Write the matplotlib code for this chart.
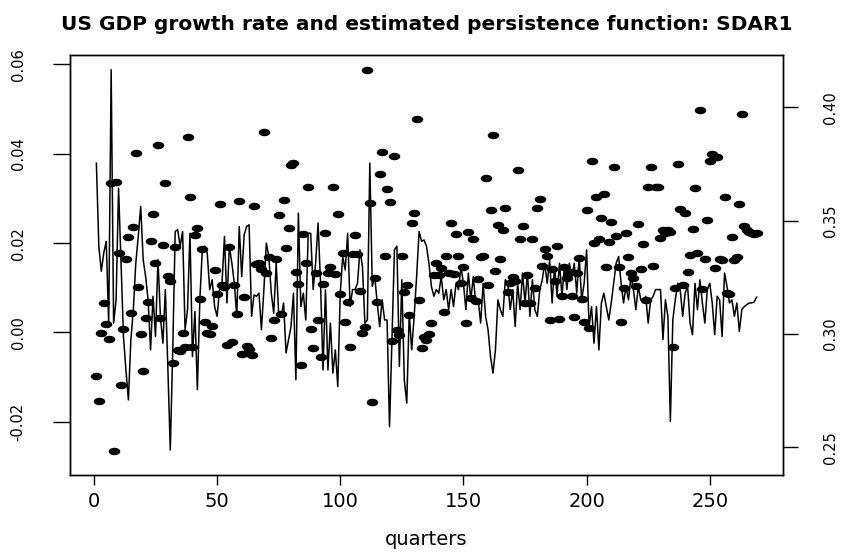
import numpy as np
import matplotlib
matplotlib.use("Agg")
import matplotlib.pyplot as plt
from matplotlib.path import Path
from matplotlib.transforms import Affine2D

# quarterly GDP growth (line, left axis) and SDAR1 persistence function (dots, right axis)
quarters = np.arange(1, 270)

gdp_growth = [
    0.0379, 0.0193, 0.0137, 0.0178, 0.0204, 0.0021, 0.0588, 0.0021, 0.0073, 0.0323,
    0.0155, -0.0009, -0.0084, -0.0151, -0.0016, 0.0051, 0.0155, 0.0215, 0.0282, 0.0163,
    0.0125, 0.0073, -0.0039, 0.0081, -0.0009, 0.0163, 0.0036, -0.0024, 0.0096, -0.0076,
    -0.0263, -0.0039, 0.0226, 0.0230, 0.0193, 0.0226, 0.0006, 0.0051, 0.0222, -0.0054,
    0.0047, -0.0128, 0.0073, 0.0185, 0.0193, 0.0178, 0.0096, 0.0118, 0.0058, 0.0036,
    0.0096, 0.0110, 0.0215, 0.0066, 0.0193, 0.0155, 0.0110, 0.0036, 0.0237, 0.0125,
    0.0219, 0.0237, 0.0241, 0.0036, 0.0084, 0.0081, 0.0088, 0.0006, 0.0096, 0.0200,
    0.0170, 0.0088, 0.0043, 0.0155, 0.0043, 0.0036, 0.0066, -0.0046, -0.0016, 0.0013,
    0.0088, -0.0106, 0.0267, 0.0058, 0.0088, 0.0028, 0.0222, 0.0222, 0.0096, 0.0155,
    0.0245, 0.0110, -0.0084, 0.0096, -0.0084, 0.0021, -0.0091, -0.0039, -0.0121, 0.0088,
    0.0170, 0.0140, 0.0222, 0.0058, 0.0096, 0.0096, 0.0110, 0.0185, 0.0148, 0.0021,
    0.0028, 0.0379, 0.0103, 0.0125, 0.0066, 0.0013, 0.0073, 0.0028, 0.0028, -0.0211,
    -0.0016, 0.0185, 0.0193, -0.0076, 0.0118, -0.0106, -0.0158, 0.0043, -0.0039, 0.0036,
    0.0125, 0.0226, 0.0204, 0.0207, 0.0193, 0.0155, 0.0103, 0.0081, 0.0096, 0.0088,
    0.0125, 0.0073, 0.0096, 0.0051, 0.0096, 0.0058, 0.0110, 0.0096, 0.0148, 0.0110,
    0.0051, 0.0133, 0.0073, 0.0125, 0.0066, 0.0073, 0.0021, 0.0110, 0.0036, 0.0006,
    -0.0054, -0.0091, -0.0039, 0.0073, 0.0051, 0.0036, 0.0118, 0.0110, 0.0051, 0.0096,
    0.0013, 0.0110, 0.0051, 0.0133, 0.0066, 0.0133, 0.0036, 0.0118, 0.0051, 0.0036,
    0.0096, 0.0118, 0.0155, 0.0110, 0.0163, 0.0066, 0.0148, 0.0081, 0.0155, 0.0081,
    0.0148, 0.0096, 0.0155, 0.0125, 0.0155, 0.0088, 0.0170, 0.0073, 0.0110, 0.0185,
    0.0013, 0.0058, -0.0024, 0.0058, -0.0039, 0.0066, 0.0088, 0.0058, 0.0028, 0.0066,
    0.0110, 0.0155, 0.0170, 0.0110, 0.0066, 0.0103, 0.0073, 0.0125, 0.0096, 0.0051,
    0.0103, 0.0073, 0.0066, 0.0081, 0.0021, 0.0073, 0.0081, 0.0096, 0.0096, 0.0096,
    -0.0016, 0.0073, 0.0036, -0.0199, 0.0028, 0.0073, 0.0110, 0.0096, 0.0036, 0.0088,
    0.0103, 0.0021, -0.0005, 0.0110, 0.0051, 0.0118, 0.0066, 0.0021, 0.0096, 0.0110,
    0.0066, -0.0005, 0.0081, 0.0073, -0.0009, 0.0133, 0.0103, 0.0066, 0.0073, 0.0036,
    0.0066, 0.0002, 0.0051, 0.0058, 0.0062, 0.0066, 0.0066, 0.0068, 0.0079,
]

persistence = [
    0.2815, 0.2703, 0.3003, 0.3135, 0.3044, 0.2978, 0.3665, 0.2485, 0.3669, 0.3356,
    0.2776, 0.3020, 0.3332, 0.3428, 0.3091, 0.3474, 0.3800, 0.3206, 0.2999, 0.2838,
    0.3072, 0.3143, 0.3410, 0.3530, 0.3315, 0.3832, 0.3070, 0.3391, 0.3665, 0.3256,
    0.3232, 0.2870, 0.3382, 0.2930, 0.2926, 0.3006, 0.2944, 0.3868, 0.3606, 0.2944,
    0.3437, 0.3469, 0.3154, 0.3375, 0.3054, 0.3006, 0.2999, 0.3035, 0.3282, 0.3176,
    0.3574, 0.3216, 0.3209, 0.2951, 0.3385, 0.2966, 0.3216, 0.3087, 0.3588, 0.2912,
    0.3165, 0.2947, 0.2932, 0.2909, 0.3565, 0.3307, 0.3315, 0.3287, 0.3891, 0.3268,
    0.3338, 0.2982, 0.3062, 0.3331, 0.3526, 0.3087, 0.3591, 0.3381, 0.3466, 0.3746,
    0.3753, 0.3275, 0.3221, 0.2862, 0.3441, 0.3315, 0.3650, 0.3024, 0.2937, 0.3268,
    0.3062, 0.2900, 0.3219, 0.3447, 0.3268, 0.3297, 0.3650, 0.3265, 0.3529, 0.3175,
    0.3359, 0.3051, 0.3143, 0.2941, 0.3353, 0.3435, 0.3353, 0.3191, 0.3003, 0.3032,
    0.4165, 0.3579, 0.2701, 0.3246, 0.3143, 0.3707, 0.3804, 0.3346, 0.3638, 0.3582,
    0.2969, 0.3785, 0.3018, 0.2996, 0.3344, 0.3185, 0.3215, 0.3084, 0.3488, 0.3534,
    0.3947, 0.3150, 0.2937, 0.2988, 0.2974, 0.3000, 0.3047, 0.3259, 0.3315, 0.3260,
    0.3290, 0.3096, 0.3344, 0.3271, 0.3491, 0.3265, 0.3441, 0.3346, 0.3224, 0.3297,
    0.3050, 0.3451, 0.3157, 0.3418, 0.3147, 0.3244, 0.3338, 0.3346, 0.3688, 0.3216,
    0.3547, 0.3878, 0.3276, 0.3481, 0.3329, 0.3459, 0.3557, 0.3187, 0.3224, 0.3253,
    0.3235, 0.3722, 0.3419, 0.3476, 0.3138, 0.3259, 0.3138, 0.3419, 0.3201, 0.3554,
    0.3596, 0.3301, 0.3374, 0.3343, 0.3062, 0.3285, 0.3235, 0.3388, 0.3065, 0.3169,
    0.3297, 0.3249, 0.3275, 0.3169, 0.3076, 0.3271, 0.3334, 0.3153, 0.3054, 0.3547,
    0.3025, 0.3765, 0.3400, 0.3606, 0.3419, 0.3513, 0.3618, 0.3294, 0.3407, 0.3496,
    0.3738, 0.3434, 0.3297, 0.3054, 0.3201, 0.3444, 0.3338, 0.3268, 0.3249, 0.3213,
    0.3485, 0.3287, 0.3396, 0.3150, 0.3650, 0.3738, 0.3300, 0.3650, 0.3647, 0.3422,
    0.3459, 0.3444, 0.3459, 0.3451, 0.2941, 0.3204, 0.3750, 0.3550, 0.3215, 0.3532,
    0.3275, 0.3347, 0.3462, 0.3646, 0.3359, 0.3988, 0.3197, 0.3329, 0.3503, 0.3763,
    0.3793, 0.3290, 0.3779, 0.3329, 0.3326, 0.3606, 0.3179, 0.3176, 0.3429, 0.3326,
    0.3341, 0.3572, 0.3969, 0.3478, 0.3459, 0.3451, 0.3444, 0.3440, 0.3444,
]

x_ticks = [0, 50, 100, 150, 200, 250]
left_ticks = [-0.02, 0.00, 0.02, 0.04, 0.06]
right_ticks = [0.25, 0.30, 0.35, 0.40]

plt.rcParams['font.family'] = ['DejaVu Sans']

fig = plt.figure(figsize=(8.43, 5.56), dpi=100)
ax = fig.add_axes([0.083, 0.1457, 0.8458, 0.7554])
ax.plot(quarters, gdp_growth, color='black', lw=1.1)
ax.set_xlim(-9.72, 279.72)
ax.set_ylim(-0.0319, 0.0621)

# the reference is stretched sideways, so the dots are flat ellipses
circ = Path.unit_circle()
dot = Path(Affine2D().scale(1.67, 1.0).transform(circ.vertices), circ.codes)

ax2 = ax.twinx()
ax2.plot(quarters, persistence, ls='none', marker=dot, ms=7.3, color='black')
ax2.set_ylim(0.2378, 0.4231)

ax.set_xticks(x_ticks)
ax.set_xticklabels([str(t) for t in x_ticks])
ax.set_yticks(left_ticks)
ax.set_yticklabels(['%.2f' % t for t in left_ticks], rotation=90, va='center')
ax2.set_yticks(right_ticks)
ax2.set_yticklabels(['%.2f' % t for t in right_ticks], rotation=90, va='center')

ax.tick_params(axis='x', length=7.2, width=1, pad=5, labelsize=14)
ax.tick_params(axis='y', length=12, width=1, pad=20, labelsize=10.5)
ax2.tick_params(axis='y', length=11, width=1, pad=18, labelsize=10.5)
for a in (ax, ax2):
    for s in a.spines.values():
        s.set_linewidth(1.0)

fig.text(0.506, 1 - 24 / 556, 'US GDP growth rate and estimated persistence function: SDAR1',
         ha='center', va='center', fontsize=14.5, fontweight='bold')
fig.text(0.506, 0.0288, 'quarters', ha='center', va='center', fontsize=14)

fig.savefig('out.png', dpi=100)
